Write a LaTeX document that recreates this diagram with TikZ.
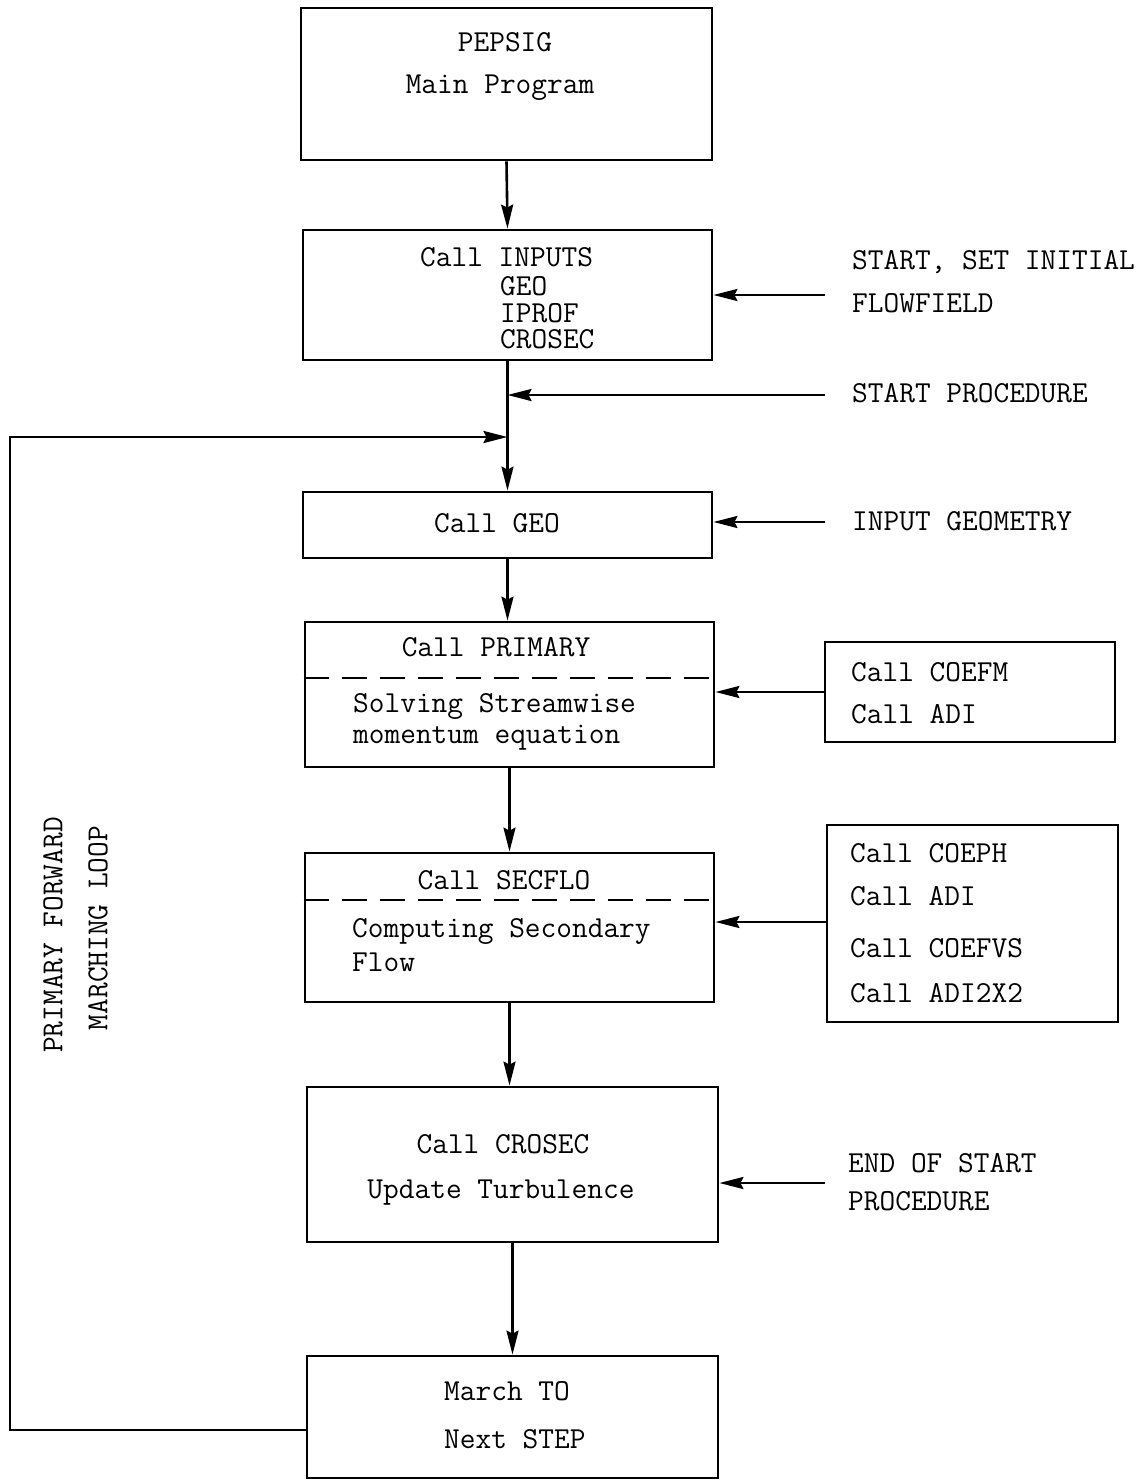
\documentclass[tikz,border=0pt]{standalone}
\usetikzlibrary{arrows.meta}
\begin{document}
\begin{tikzpicture}[x=1pt,y=-1pt,
  every node/.style={font=\fontsize{30.5}{36}\selectfont\ttfamily, inner sep=0pt},
  box/.style={draw, line width=2.8pt, minimum width=#1, inner sep=0pt},
  arr/.style={line width=2.6pt, -{Stealth[length=24pt,width=12pt,inset=3pt]}},
  lbl/.style={anchor=west},
  ctr/.style={anchor=center},
  tight/.style={text height=19pt, text depth=0pt}]
\fill[white] (0,0) rectangle (1148,1480);
\useasboundingbox (0,0) rectangle (1148,1480);

% boxes
\node[box=411pt, minimum height=152pt] (pepsig) at (506.5,84) {};
\node[box=409pt, minimum height=130pt] (inputs) at (507.5,295) {};
\node[box=409pt, minimum height=66pt] (geo) at (507.5,525) {};
\node[box=409pt, minimum height=145pt] (primary) at (509.5,694.5) {};
\node[box=409pt, minimum height=149pt] (secflo) at (509.5,927.5) {};
\node[box=411pt, minimum height=155pt] (crosec) at (512.5,1164.5) {};
\node[box=411pt, minimum height=122pt] (march) at (512.5,1417) {};
\node[box=290pt, minimum height=100pt] (coefm) at (970,692) {};
\node[box=291pt, minimum height=197pt] (coeph) at (972.5,923.5) {};

% dashed separators
\draw[line width=2.6pt, dash pattern=on 25pt off 13pt] (primary.west |- 0,678) coordinate (pd1) -- (primary.east |- 0,678) coordinate (pd2);
\draw[line width=2.6pt, dash pattern=on 25pt off 13pt] (secflo.west |- 0,900) coordinate (sd1) -- (secflo.east |- 0,900) coordinate (sd2);

% box texts
\node[ctr] (t1) at (505,42) {PEPSIG};
\node[ctr] (t2) at (500,88) {Main Program};
\node[lbl,tight] (t3) at (420,257) {Call INPUTS};
\node[lbl,tight] (t4) at (500,286) {GEO};
\node[lbl,tight] (t5) at (500,313) {IPROF};
\node[lbl,tight] (t6) at (500,339) {CROSEC};
\node[ctr] (t7) at (497,523) {Call GEO};
\node[ctr] (t8) at (496,647) {Call PRIMARY};
\node[lbl] (t9) at (353,706) {Solving Streamwise};
\node[lbl] (t10) at (353,738) {momentum equation};
\node[ctr] (t11) at (504,880) {Call SECFLO};
\node[lbl] (t12) at (352,931) {Computing Secondary};
\node[lbl] (t13) at (352,962) {Flow};
\node[lbl] (t14) at (851,672) {Call COEFM};
\node[lbl] (t15) at (851,714) {Call ADI};
\node[lbl] (t16) at (850,853) {Call COEPH};
\node[lbl] (t17) at (850,896) {Call ADI};
\node[lbl] (t18) at (850,948) {Call COEFVS};
\node[lbl] (t19) at (850,993) {Call ADI2X2};
\node[ctr] (t20) at (503,1144) {Call CROSEC};
\node[ctr] (t21) at (501,1193) {Update Turbulence};
\node[lbl] (t22) at (444,1391) {March TO};
\node[lbl] (t23) at (444,1439) {Next STEP};

% right labels
\node[lbl] (r1) at (852,262) {START, SET INITIAL};
\node[lbl] (r2) at (852,303) {FLOWFIELD};
\node[lbl] (r3) at (852,393) {START PROCEDURE};
\node[lbl] (r4) at (852,521) {INPUT GEOMETRY};
\node[lbl] (r5) at (848,1163) {END OF START};
\node[lbl] (r6) at (848,1201) {PROCEDURE};

% loop label
\node[rotate=90] (l1) at (53,935) {PRIMARY FORWARD};
\node[rotate=90] (l2) at (98,928) {MARCHING LOOP};

% vertical flow
\draw[arr] (pepsig.south) -- (inputs.north);
\coordinate (j1) at (507.5,395);
\coordinate (j2) at (507.5,437);
\draw[arr] (inputs.south) -- (geo.north);
\draw[arr] (geo.south) -- (geo.south |- primary.north);
\draw[arr] (primary.south) -- (secflo.north);
\draw[arr] (secflo.south) -- (secflo.south |- crosec.north);
\draw[arr] (crosec.south) -- (march.north);

% side inputs
\coordinate (s1) at (825,295);
\coordinate (s2) at (825,395);
\coordinate (s3) at (825,522);
\coordinate (s4) at (825,1183);
\draw[arr] (s1) -- (s1 -| inputs.east);
\draw[arr] (s2) -- (j1);
\draw[arr] (s3) -- (s3 -| geo.east);
\draw[arr] (coefm.west) -- (coefm.west -| primary.east);
\draw[arr] (coeph.west |- 0,922) -- (secflo.east |- 0,922);
\draw[arr] (s4) -- (s4 -| crosec.east);

% loop back
\coordinate (lp) at (307,1430);
\draw[arr] (lp) -- (10,1430) -- (10,437) -- (j2);
\end{tikzpicture}
\end{document}
